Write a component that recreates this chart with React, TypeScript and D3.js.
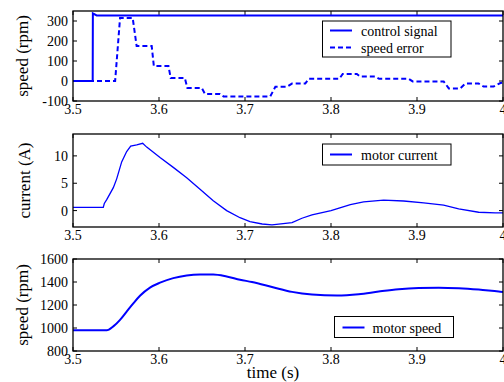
import React, { useEffect, useRef } from 'react';
import * as d3 from 'd3';

// time axis ticks shared by all three panels
const timeTicks = [3.5, 3.6, 3.7, 3.8, 3.9, 4.0];
const timeTickLabels = ['3.5', '3.6', '3.7', '3.8', '3.9', '4'];

// panel 1: control signal and speed error (rpm)
const controlSignal: [number, number][] = [
  [3.5, 0], [3.5229, 0], [3.5229, -4], [3.5231, 338], [3.5275, 328], [4.0, 328],
];
const speedError: [number, number][] = [
  [3.5, 0], [3.549, 0], [3.5547, 315], [3.5694, 315], [3.574, 175], [3.5915, 175],
  [3.594, 75], [3.611, 75], [3.6136, 15], [3.63, 15], [3.633, -35], [3.6497, -35],
  [3.6535, -65], [3.671, -65], [3.675, -77], [3.7294, -77], [3.7353, -29], [3.7488, -29],
  [3.7547, -13], [3.7701, -13], [3.774, 11], [3.8097, 11], [3.8136, 35], [3.83, 35],
  [3.834, 22], [3.8515, 22], [3.856, 11], [3.8903, 11], [3.895, -2], [3.931, -2],
  [3.937, -37], [3.9503, -37], [3.956, -13], [3.9717, -13], [3.9776, -28], [3.989, -28],
  [3.997, -10], [4.0, -8],
];

// panel 2: motor current (A)
const motorCurrent: [number, number][] = [
  [3.5, 0.6], [3.5352, 0.6], [3.5364, 1.3], [3.5392, 2.0], [3.5469, 4.2], [3.5508, 5.8],
  [3.5566, 8.9], [3.5624, 10.8], [3.5671, 11.8], [3.5741, 12.0], [3.581, 12.3],
  [3.5857, 11.6], [3.6012, 9.7], [3.6166, 7.9], [3.6322, 6.0], [3.6477, 3.9],
  [3.6631, 1.8], [3.6787, 0.0], [3.6942, -1.3], [3.7058, -2.0], [3.72, -2.45],
  [3.7314, -2.6], [3.7547, -2.2], [3.7662, -1.4], [3.7779, -0.8], [3.80, 0.0],
  [3.8225, 1.1], [3.8379, 1.6], [3.8612, 1.9], [3.8845, 1.75], [3.9078, 1.4],
  [3.931, 1.0], [3.9485, 0.3], [3.9717, -0.3], [3.9911, -0.4], [4.0, -0.4],
];

// panel 3: motor speed (rpm)
const motorSpeed: [number, number][] = [
  [3.5, 980], [3.5392, 980], [3.5469, 1014], [3.5547, 1071], [3.5624, 1143],
  [3.5701, 1214], [3.5779, 1280], [3.5895, 1351], [3.6012, 1394], [3.6166, 1434],
  [3.6322, 1457], [3.6477, 1465], [3.6631, 1465], [3.6787, 1448], [3.6942, 1420],
  [3.7081, 1400], [3.7314, 1357], [3.7547, 1314], [3.7779, 1291], [3.807, 1283],
  [3.8322, 1294], [3.8555, 1317], [3.8787, 1337], [3.902, 1348], [3.9252, 1351],
  [3.9485, 1346], [3.9717, 1334], [3.995, 1317], [4.0, 1314],
];

const speedTicks = [-100, 0, 100, 200, 300];
const currentTicks = [0, 5, 10];
const motorSpeedTicks = [800, 1000, 1200, 1400, 1600];

const App: React.FC = () => {
  const svgRef = useRef<SVGSVGElement | null>(null);

  useEffect(() => {
    if (!svgRef.current) return;
    const svg = d3.select(svgRef.current);
    svg.selectAll('*').remove();

    const left = 73;
    const right = 503;
    const blue = '#0000ff';
    const font = 'Liberation Serif, Times New Roman, Times, serif';

    const x = d3.scaleLinear().domain([3.5, 4.0]).range([left, right]);

    const panels = [
      { top: 11, bottom: 101, domain: [-100, 350], ticks: speedTicks, label: 'speed (rpm)', labelX: 28 },
      { top: 134, bottom: 227, domain: [-3, 14], ticks: currentTicks, label: 'current (A)', labelX: 30 },
      { top: 259, bottom: 351, domain: [800, 1600], ticks: motorSpeedTicks, label: 'speed (rpm)', labelX: 28 },
    ];

    const scales = panels.map(p => {
      const y = d3.scaleLinear().domain(p.domain).range([p.bottom, p.top]);
      const g = svg.append('g');

      // inward ticks on all four sides
      timeTicks.forEach(t => {
        g.append('line').attr('x1', x(t)).attr('x2', x(t)).attr('y1', p.bottom).attr('y2', p.bottom - 4).attr('stroke', '#000');
        g.append('line').attr('x1', x(t)).attr('x2', x(t)).attr('y1', p.top).attr('y2', p.top + 4).attr('stroke', '#000');
      });
      p.ticks.forEach(v => {
        g.append('line').attr('x1', left).attr('x2', left + 4).attr('y1', y(v)).attr('y2', y(v)).attr('stroke', '#000');
        g.append('line').attr('x1', right).attr('x2', right - 4).attr('y1', y(v)).attr('y2', y(v)).attr('stroke', '#000');
      });

      g.selectAll('.xl').data(timeTicks).enter().append('text')
        .attr('x', d => x(d)).attr('y', p.bottom + 13)
        .attr('text-anchor', 'middle').style('font-family', font).attr('font-size', 14)
        .text((_d, i) => timeTickLabels[i]);
      g.selectAll('.yl').data(p.ticks).enter().append('text')
        .attr('x', left - 5).attr('y', d => y(d) + 5)
        .attr('text-anchor', 'end').style('font-family', font).attr('font-size', 14)
        .text(d => d);

      g.append('text')
        .attr('transform', `translate(${p.labelX},${(p.top + p.bottom) / 2}) rotate(-90)`)
        .attr('text-anchor', 'middle').style('font-family', font).attr('font-size', 17)
        .text(p.label);

      return { y, g, p };
    });

    const line = (y: d3.ScaleLinear<number, number>) =>
      d3.line<[number, number]>().x(d => x(d[0])).y(d => y(d[1]));

    // panel 1 curves
    const s1 = scales[0];
    s1.g.append('path').datum(controlSignal).attr('d', line(s1.y)).attr('fill', 'none').attr('stroke', blue).attr('stroke-width', 2);
    s1.g.append('path').datum(speedError).attr('d', line(s1.y)).attr('fill', 'none').attr('stroke', blue).attr('stroke-width', 2).attr('stroke-dasharray', '5,3');

    // panel 2
    const s2 = scales[1];
    s2.g.append('path').datum(motorCurrent).attr('d', line(s2.y)).attr('fill', 'none').attr('stroke', blue).attr('stroke-width', 1.3);

    // panel 3
    const s3 = scales[2];
    s3.g.append('path').datum(motorSpeed).attr('d', line(s3.y).curve(d3.curveMonotoneX)).attr('fill', 'none').attr('stroke', blue).attr('stroke-width', 2);

    // frames on top
    scales.forEach(({ g, p }) => {
      g.append('rect').attr('x', left).attr('y', p.top).attr('width', right - left).attr('height', p.bottom - p.top)
        .attr('fill', 'none').attr('stroke', '#000').attr('stroke-width', 1.3);
    });

    // legends
    const legend = (g: d3.Selection<SVGGElement, unknown, null, undefined>, bx: number, by: number, bw: number, bh: number,
      items: { label: string; dash?: string }[], lineX: number, textX: number, rowY: number[]) => {
      g.append('rect').attr('x', bx).attr('y', by).attr('width', bw).attr('height', bh)
        .attr('fill', '#fff').attr('stroke', '#000').attr('stroke-width', 1);
      items.forEach((it, i) => {
        g.append('line').attr('x1', lineX).attr('x2', lineX + 22).attr('y1', rowY[i]).attr('y2', rowY[i])
          .attr('stroke', blue).attr('stroke-width', 2).attr('stroke-dasharray', it.dash || null);
        g.append('text').attr('x', textX).attr('y', rowY[i] + 5).style('font-family', font).attr('font-size', 14).text(it.label);
      });
    };
    legend(s1.g, 322.5, 21, 128.5, 36, [{ label: 'control signal' }, { label: 'speed error', dash: '5,3' }], 330, 361, [30.5, 47.5]);
    legend(s2.g, 322.5, 144, 128.5, 21, [{ label: 'motor current' }], 330, 361, [154.5]);
    legend(s3.g, 334.5, 316.5, 119, 21, [{ label: 'motor speed' }], 342.5, 372.5, [327.5]);

    svg.append('text').attr('x', 273).attr('y', 378).attr('text-anchor', 'middle')
      .style('font-family', font).attr('font-size', 17).text('time (s)');
  }, []);

  return (
    <div style={{ position: 'absolute', left: 0, top: 0, width: 504, height: 382, background: '#fff' }}>
      <svg ref={svgRef} width={504} height={382} style={{ display: 'block' }} />
    </div>
  );
};

export default App;
